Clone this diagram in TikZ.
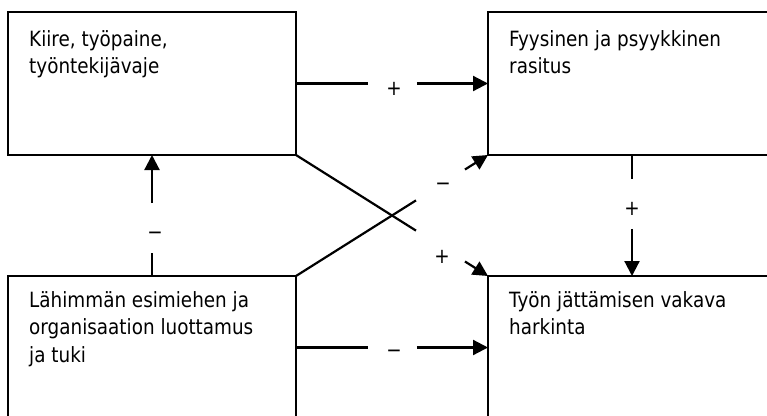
\documentclass[tikz,border=0pt]{standalone}
\usepackage{fontspec}
\setmainfont[FakeStretch=0.875]{DejaVu Sans}
\usetikzlibrary{arrows.meta,calc}
\begin{document}
\begin{tikzpicture}[x=1pt,y=-1pt,
  box/.style={draw, line width=2.2pt, rectangle, minimum width=288pt, minimum height=143pt, inner sep=0pt, outer sep=0pt, anchor=north west},
  txt/.style={anchor=north west, inner sep=0pt, align=left, font=\fontsize{21}{27.5}\selectfont},
  conn/.style={line width=2.2pt},
  arr/.style={conn, -{Triangle[length=15pt,width=15pt]}},
  sign/.style={font=\fontsize{21}{22}\selectfont, inner sep=0pt}]
\useasboundingbox (0,0) rectangle (767,415);
\clip (0,0) rectangle (767,415);
\node[box] (a) at (8,12) {};
\node[box] (b) at (488,12) {};
\node[box] (c) at (8,276) {};
\node[box] (d) at (488,276) {};
\node[txt] (ta) at (29,30) {Kiire, työpaine,\\työntekijävaje};
\node[txt] (tb) at (509,30) {Fyysinen ja psyykkinen\\rasitus};
\node[txt] (tc) at (29,291) {Lähimmän esimiehen ja\\organisaation luottamus\\ja tuki};
\node[txt] (td) at (509,291) {Työn jättämisen vakava\\harkinta};
% top horizontal
\draw[conn] (a.east) -- ($(a.east)!0.375!(b.west)$);
\draw[arr] ($(a.east)!0.63!(b.west)$) -- (b.west);
\node[sign] (s1) at (394,89) {+};
% bottom horizontal
\draw[conn] (c.east) -- ($(c.east)!0.375!(d.west)$);
\draw[arr] ($(c.east)!0.63!(d.west)$) -- (d.west);
\node[sign] (s2) at (394,354) {−};
% left vertical
\draw[conn] (c.north) -- ($(c.north)!0.19!(a.south)$);
\draw[arr] ($(c.north)!0.603!(a.south)$) -- (a.south);
\node[sign] (s3) at (155,236) {−};
% right vertical
\draw[conn] (b.south) -- ($(b.south)!0.198!(d.north)$);
\draw[arr] ($(b.south)!0.61!(d.north)$) -- (d.north);
\node[sign] (s4) at (632,209) {+};
% diagonals
\draw[conn] (a.south east) -- ($(a.south east)!0.625!(d.north west)$);
\draw[arr] ($(a.south east)!0.88!(d.north west)$) -- (d.north west);
\node[sign] (s5) at (442,257) {+};
\draw[conn] (c.north east) -- ($(c.north east)!0.625!(b.south west)$);
\draw[arr] ($(c.north east)!0.88!(b.south west)$) -- (b.south west);
\node[sign] (s6) at (443,187) {−};
\end{tikzpicture}
\end{document}
